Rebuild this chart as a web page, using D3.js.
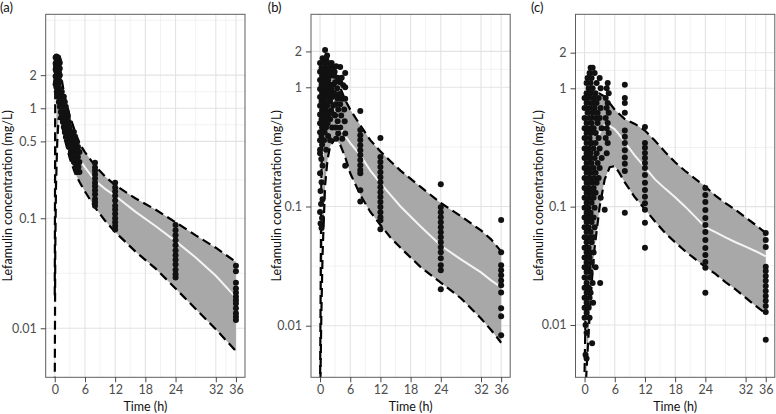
<!DOCTYPE html>
<html><head><meta charset="utf-8">
<script src="https://cdn.jsdelivr.net/npm/d3@7"></script>
<style>
body{margin:0;background:#fff}
svg{display:block}
text{font-family:Lato,"Open Sans",sans-serif}
</style>
</head><body>
<svg id="chart" width="776" height="414"></svg>
<script>
// ---------------- data ----------------
const xBreaks = [0, 6, 12, 18, 24, 32, 36];
const yBreaksA = [0.01, 0.1, 0.5, 1, 2];
const yBreaksB = [0.01, 0.1, 1, 2];
const yBreaksC = [0.01, 0.1, 1, 2];
const panelTitles = ["(a)", "(b)", "(c)"];
const xTitle = "Time (h)";
const yTitle = "Lefamulin concentration (mg/L)";

// prediction-interval band (5th / 50th / 95th percentiles)
const timesA  = [0, 0.1, 0.25, 0.5, 0.75, 1, 1.5, 2, 3, 4, 5, 6, 8, 10, 12, 16, 20, 24, 28, 32, 36];
const upperA  = [0.02, 1.6, 2.3, 2.6, 2.6, 2.4, 1.7, 1.25, 0.85, 0.62, 0.47, 0.4, 0.3, 0.24, 0.2, 0.152, 0.12, 0.092, 0.07, 0.054, 0.04];
const medianA = [0.006, 0.6, 1.4, 1.7, 1.7, 1.5, 1.1, 0.8, 0.55, 0.42, 0.34, 0.29, 0.22, 0.185, 0.16, 0.115, 0.085, 0.062, 0.044, 0.03, 0.019];
const lowerA  = [0.003, 0.05, 0.2, 0.5, 0.8, 0.85, 0.68, 0.52, 0.35, 0.26, 0.21, 0.175, 0.125, 0.095, 0.075, 0.05, 0.035, 0.023, 0.015, 0.0098, 0.0062];

const timesB  = [0, 0.25, 0.5, 1, 1.5, 2, 3, 4, 5, 6, 8, 10, 12, 14, 16, 20, 24, 28, 32, 34, 36];
const upperB  = [0.003, 0.15, 0.6, 1.5, 1.75, 1.7, 1.35, 1.0, 0.78, 0.65, 0.48, 0.36, 0.29, 0.24, 0.2, 0.146, 0.107, 0.083, 0.063, 0.053, 0.042];
const medianB = [0.002, 0.05, 0.25, 0.7, 0.9, 0.92, 0.65, 0.46, 0.39, 0.34, 0.27, 0.2, 0.157, 0.125, 0.1, 0.068, 0.047, 0.036, 0.028, 0.024, 0.021];
const lowerB  = [0.002, 0.012, 0.04, 0.15, 0.25, 0.32, 0.37, 0.33, 0.26, 0.19, 0.125, 0.09, 0.07, 0.055, 0.045, 0.031, 0.023, 0.017, 0.0115, 0.0092, 0.0072];

const timesC  = [0, 0.5, 1, 1.5, 2, 3, 4, 5, 6, 7, 8, 10, 12, 14, 16, 18, 20, 22, 24, 26, 28, 30, 32, 34, 36];
const upperC  = [0.004, 0.06, 0.3, 0.6, 0.8, 0.9, 0.85, 0.75, 0.66, 0.6, 0.55, 0.5, 0.44, 0.36, 0.29, 0.237, 0.2, 0.172, 0.148, 0.124, 0.107, 0.094, 0.081, 0.07, 0.06];
const medianC = [0.003, 0.02, 0.08, 0.18, 0.28, 0.42, 0.49, 0.48, 0.45, 0.4, 0.35, 0.27, 0.215, 0.17, 0.142, 0.12, 0.1, 0.082, 0.067, 0.061, 0.055, 0.05, 0.046, 0.042, 0.038];
const lowerC  = [0.002, 0.005, 0.012, 0.025, 0.045, 0.1, 0.17, 0.215, 0.22, 0.19, 0.16, 0.12, 0.095, 0.075, 0.06, 0.05, 0.042, 0.036, 0.031, 0.027, 0.023, 0.02, 0.017, 0.0145, 0.0125];

// observed concentrations [time (h), concentration (mg/L)]
const obsA = [
 [0.17,2.9],[0.33,2.95],[0.5,2.85],[0.67,2.9],[0.83,2.75],[1.0,2.6],
 [0.17,2.55],[0.33,2.65],[0.5,2.5],[0.75,2.45],[1.0,2.3],
 [0.17,2.25],[0.33,2.15],[0.5,2.25],[0.75,2.1],[1.0,2.0],
 [0.17,1.95],[0.33,1.85],[0.5,1.9],[0.75,1.8],[1.0,1.75],
 [0.17,1.65],[0.33,1.55],[0.5,1.7],[0.75,1.55],[1.0,1.5],
 [0.25,2.4],[0.67,2.3],[0.42,2.0],[0.83,1.95],[0.25,1.75],[0.67,1.65],
 [0.4,1.41],[1.0,1.41],[1.4,1.41],[0.6,1.27],[1.2,1.27],[1.8,1.27],
 [0.8,1.14],[1.4,1.14],[2.0,1.14],[1.0,1.03],[1.6,1.03],[2.2,1.03],
 [1.2,0.925],[1.8,0.925],[2.4,0.925],[1.4,0.834],[2.0,0.834],[2.6,0.834],
 [1.6,0.751],[2.2,0.751],[2.8,0.751],[1.8,0.676],[2.4,0.676],[3.0,0.676],
 [2.0,0.609],[2.6,0.609],[3.2,0.609],[3.8,0.609],[2.2,0.548],[2.8,0.548],[3.4,0.548],[4.0,0.548],
 [2.6,0.494],[3.2,0.494],[3.8,0.494],[4.4,0.494],[2.8,0.445],[3.4,0.445],[4.0,0.445],[4.6,0.445],
 [3.2,0.4],[3.8,0.4],[4.4,0.4],[4.9,0.4],[3.4,0.361],[4.0,0.361],[4.6,0.361],
 [3.8,0.325],[4.4,0.325],[4.9,0.325],[4.2,0.293],[4.7,0.293],[4.4,0.264],[4.9,0.264],
 [8,0.32],[8,0.29],[8,0.27],[8,0.25],[8,0.23],[8,0.21],[8,0.195],[8,0.18],[8,0.165],[8,0.15],[8,0.14],[8,0.13],
 [12,0.21],[12,0.19],[12,0.175],[12,0.16],[12,0.145],[12,0.13],[12,0.12],[12,0.11],[12,0.1],[12,0.092],[12,0.085],[12,0.079],
 [24,0.087],[24,0.078],[24,0.07],[24,0.063],[24,0.057],[24,0.051],[24,0.046],[24,0.042],[24,0.038],[24,0.034],[24,0.031],[24,0.029],
 [36,0.037],[36,0.033],[36,0.026],[36,0.023],[36,0.021],[36,0.0193],[36,0.018],[36,0.0168],[36,0.0152],[36,0.0137],[36,0.0127],[36,0.0119]
];

const obsB = [
 [0.5,1.75],[1.2,1.75],[0,1.6],[0.8,1.6],[1.6,1.6],[2.3,1.6],[0.3,1.45],[1.1,1.45],[1.9,1.45],
 [0,1.35],[0.7,1.35],[1.5,1.35],[2.4,1.35],[0.4,1.25],[1.2,1.25],[2.0,1.25],[2.8,1.25],
 [0,1.15],[0.8,1.15],[1.6,1.15],[0.3,1.05],[1.1,1.05],[2.0,1.05],[2.6,1.05],
 [0,0.97],[0.7,0.97],[1.4,0.97],[2.2,0.97],[0.4,0.9],[1.2,0.9],[1.8,0.9],[2.7,0.9],
 [0,0.83],[0.8,0.83],[1.6,0.83],[2.4,0.83],[0.3,0.76],[1.0,0.76],[2.0,0.76],
 [0,0.7],[0.7,0.7],[1.4,0.7],[2.6,0.7],[0.4,0.64],[1.2,0.64],[2.2,0.64],
 [0,0.59],[0.8,0.59],[1.7,0.59],[2.8,0.59],[0.3,0.54],[1.1,0.54],[2.0,0.54],
 [0,0.5],[0.7,0.5],[1.5,0.5],[0.4,0.46],[1.2,0.46],[2.4,0.46],[0,0.42],[0.9,0.42],
 [0.3,0.39],[1.6,0.39],[0,0.36],[0.8,0.36],[2.0,0.36],[0.4,0.33],[0,0.3],[1.2,0.3],
 [1.0,2.06],[1.4,1.85],[4.0,1.48],[5.0,1.32],[5.0,1.0],[4.6,1.04],
 [3.2,1.5],[2.9,1.35],[3.5,1.2],[4.3,1.2],[3.0,1.1],[4.0,1.1],[3.4,0.98],[3.0,0.88],[3.9,0.88],
 [3.5,0.8],[4.4,0.8],[5.0,0.8],[3.1,0.72],[4.0,0.72],[3.6,0.65],[4.8,0.65],[3.0,0.58],[4.2,0.58],
 [3.5,0.52],[4.9,0.52],[3.1,0.46],[4.0,0.46],[3.6,0.41],[5.0,0.41],[3.2,0.37],[4.4,0.37],[5.0,0.22],
 [0,0.28],[0.25,0.25],[0.5,0.22],[0,0.19],[0.3,0.16],[0.1,0.135],[0.5,0.115],[0.2,0.105],[0,0.09],[0.4,0.08],[0.1,0.072],[0.3,0.066],
 [8,0.632],[8,0.438],[8,0.397],[8,0.361],[8,0.327],[8,0.297],[8,0.27],[8,0.245],[8,0.222],[8,0.202],[8,0.19],[8,0.137],[8,0.11],
 [12,0.375],[12,0.26],[12,0.236],[12,0.214],[12,0.194],[12,0.176],[12,0.16],[12,0.145],[12,0.132],[12,0.12],[12,0.109],[12,0.099],[12,0.0896],[12,0.0813],[12,0.0767],[12,0.0645],
 [24,0.154],[24,0.0986],[24,0.0896],[24,0.0813],[24,0.0738],[24,0.067],[24,0.0608],[24,0.0552],[24,0.0501],[24,0.0455],[24,0.0413],[24,0.0368],[24,0.0322],[24,0.0292],[24,0.0202],
 [36,0.077],[36,0.0413],[36,0.0322],[36,0.0292],[36,0.0265],[36,0.024],[36,0.0218],[36,0.019],[36,0.014],[36,0.012],[36,0.0083]
];

const obsC = [
 [1.2,1.49],[1.6,1.49],[1.0,1.35],[2.0,1.35],[0.6,1.22],[1.4,1.22],[3.0,1.22],
 [0.4,1.11],[1.2,1.11],[2.4,1.11],[4.6,1.11],[0.8,1.0],[1.6,1.0],[3.2,1.0],[4.4,1.0],
 [0.4,0.91],[1.2,0.91],[2.2,0.91],[4.8,0.91],[0,0.83],[0.8,0.83],[1.8,0.83],[2.8,0.83],[4.2,0.83],
 [0.4,0.75],[1.4,0.75],[2.4,0.75],[4.6,0.75],[0,0.68],[1.0,0.68],[2.0,0.68],[3.2,0.68],[4.4,0.68],
 [0.6,0.62],[1.6,0.62],[2.6,0.62],[4.8,0.62],[0,0.56],[1.0,0.56],[2.2,0.56],[3.0,0.56],[4.2,0.56],
 [0.4,0.51],[1.4,0.51],[2.6,0.51],[4.6,0.51],[0,0.46],[0.8,0.46],[1.8,0.46],[3.4,0.46],[4.4,0.46],
 [0.4,0.42],[1.2,0.42],[2.2,0.42],[4.8,0.42],[0,0.38],[1.0,0.38],[2.8,0.38],[4.2,0.38],
 [0.4,0.345],[1.4,0.345],[2.2,0.345],[4.6,0.345],[0,0.31],[0.8,0.31],[1.8,0.31],[3.0,0.31],
 [0.4,0.283],[1.2,0.283],[2.4,0.283],[4.4,0.283],[0,0.258],[1.0,0.258],[2.0,0.258],[3.4,0.258],
 [0.4,0.234],[1.4,0.234],[2.6,0.234],[0,0.212],[0.8,0.212],[1.8,0.212],[3.0,0.212],
 [0.4,0.193],[1.2,0.193],[2.2,0.193],[0,0.175],[1.0,0.175],[1.8,0.175],[2.8,0.175],
 [0.4,0.159],[1.4,0.159],[2.4,0.159],[0,0.144],[0.8,0.144],[1.8,0.144],
 [0.4,0.131],[1.2,0.131],[2.2,0.131],[0,0.119],[1.0,0.119],[1.8,0.119],[3.2,0.119],
 [0.4,0.108],[1.4,0.108],[0,0.098],[0.8,0.098],[2.0,0.098],[0.4,0.089],[1.2,0.089],[4.0,0.094],
 [0,0.081],[1.0,0.081],[1.8,0.081],[0.4,0.074],[1.4,0.074],[0,0.067],[0.8,0.067],[2.0,0.067],
 [0.4,0.061],[1.2,0.061],[0,0.055],[1.0,0.055],[1.8,0.055],[0.4,0.05],[1.4,0.05],[0,0.045],[0.8,0.045],
 [0.4,0.041],[1.2,0.041],[1.8,0.041],[0,0.0372],[1.0,0.0372],[0.4,0.0338],[1.4,0.0338],
 [0,0.0307],[0.8,0.0307],[2.2,0.0307],[0.4,0.028],[1.2,0.028],[0,0.0252],[1.0,0.0252],
 [0.4,0.0226],[1.6,0.0226],[3.1,0.0226],[0,0.0206],[0.8,0.0206],[0.4,0.0187],[1.2,0.0187],
 [0,0.017],[1.0,0.017],[0.4,0.0154],[1.7,0.0154],[0,0.014],[0.8,0.014],[0.4,0.0127],[0,0.0115],[1.0,0.0115],
 [0.2,0.01],[0.4,0.0086],[1.5,0.007],[0.2,0.0056],[0.4,0.0052],
 [8,1.07],[8,0.83],[8,0.75],[8,0.62],[8,0.44],[8,0.39],[8,0.345],[8,0.3],[8,0.26],[8,0.23],[8,0.2],[8,0.089],
 [12,0.47],[12,0.345],[12,0.314],[12,0.284],[12,0.258],[12,0.234],[12,0.212],[12,0.185],[12,0.159],[12,0.138],[12,0.121],[12,0.107],[12,0.094],[12,0.073],[12,0.045],
 [24,0.144],[24,0.1255],[24,0.1096],[24,0.0938],[24,0.0803],[24,0.07],[24,0.0611],[24,0.0523],[24,0.0448],[24,0.0391],[24,0.0341],[24,0.0304],[24,0.0187],
 [36,0.06],[36,0.0523],[36,0.0457],[36,0.031],[36,0.0286],[36,0.026],[36,0.0236],[36,0.0214],[36,0.0194],[36,0.0176],[36,0.016],[36,0.0145],[36,0.0129],[36,0.0075]
];

// ---------------- layout ----------------
const panels = [
  {title: panelTitles[0], titleX: 0, left: 45.7, right: 245, yDomain: [0.003584, 7.15], yBreaks: yBreaksA, yLabX: 7.5,
   times: timesA, upper: upperA, median: medianA, lower: lowerA, obs: obsA},
  {title: panelTitles[1], titleX: 267.7, left: 311, right: 510.2, yDomain: [0.003691, 4.097], yBreaks: yBreaksB, yLabX: 276.5,
   times: timesB, upper: upperB, median: medianB, lower: lowerB, obs: obsB},
  {title: panelTitles[2], titleX: 531, left: 575.5, right: 774.8, yDomain: [0.003614, 4.22], yBreaks: yBreaksC, yLabX: 538.3,
   times: timesC, upper: upperC, median: medianC, lower: lowerC, obs: obsC}
];
const panelTop = 14.3, panelBottom = 377.3;
const xDomain = [-1.8, 37.8];

function minorBreaks(b, lim) {
  const bb = b.slice();
  const bd = bb[1] - bb[0];
  if (lim[0] < bb[0]) bb.unshift(bb[0] - bd);
  if (lim[1] > bb[bb.length - 1]) bb.push(bb[bb.length - 1] + bd);
  const m = [];
  for (let i = 0; i < bb.length - 1; i++) m.push((bb[i] + bb[i + 1]) / 2);
  return m.filter(v => v > lim[0] && v < lim[1] && !b.some(q => Math.abs(q - v) < 1e-9));
}

const svg = d3.select("#chart");
svg.append("rect").attr("width", 776).attr("height", 414).attr("fill", "#fff");

panels.forEach((p, i) => {
  const x = d3.scaleLinear().domain(xDomain).range([p.left, p.right]);
  const y = d3.scaleLog().domain(p.yDomain).range([panelBottom, panelTop]);
  const g = svg.append("g");
  const clipId = "clip" + i;
  svg.append("defs").append("clipPath").attr("id", clipId)
    .append("rect").attr("x", p.left).attr("y", panelTop).attr("width", p.right - p.left).attr("height", panelBottom - panelTop);

  // grid
  const xMinor = minorBreaks(xBreaks, xDomain);
  const yLogB = p.yBreaks.map(v => Math.log10(v));
  const yLogLim = p.yDomain.map(v => Math.log10(v));
  const yMinor = minorBreaks(yLogB, yLogLim).map(v => Math.pow(10, v));
  const grid = g.append("g");
  grid.selectAll(".xmin").data(xMinor).join("line")
    .attr("x1", d => x(d)).attr("x2", d => x(d)).attr("y1", panelTop).attr("y2", panelBottom)
    .attr("stroke", "#efefef").attr("stroke-width", 0.8);
  grid.selectAll(".ymin").data(yMinor).join("line")
    .attr("x1", p.left).attr("x2", p.right).attr("y1", d => y(d)).attr("y2", d => y(d))
    .attr("stroke", "#efefef").attr("stroke-width", 0.8);
  grid.selectAll(".xmaj").data(xBreaks).join("line")
    .attr("x1", d => x(d)).attr("x2", d => x(d)).attr("y1", panelTop).attr("y2", panelBottom)
    .attr("stroke", "#e3e3e3").attr("stroke-width", 1.1);
  grid.selectAll(".ymaj").data(p.yBreaks).join("line")
    .attr("x1", p.left).attr("x2", p.right).attr("y1", d => y(d)).attr("y2", d => y(d))
    .attr("stroke", "#e3e3e3").attr("stroke-width", 1.1);

  // band
  const band = p.times.map((t, k) => ({t, up: p.upper[k], md: p.median[k], lo: p.lower[k]}));
  const plot = g.append("g").attr("clip-path", `url(#${clipId})`);
  plot.append("path").datum(band)
    .attr("d", d3.area().x(d => x(d.t)).y0(d => y(d.lo)).y1(d => y(d.up)))
    .attr("fill", "#a8a8a8");
  plot.append("path").datum(band)
    .attr("d", d3.line().x(d => x(d.t)).y(d => y(d.md)))
    .attr("fill", "none").attr("stroke", "#f4f4f4").attr("stroke-width", 2);
  ["up", "lo"].forEach(key => {
    plot.append("path").datum(band)
      .attr("d", d3.line().x(d => x(d.t)).y(d => y(d[key])))
      .attr("fill", "none").attr("stroke", "#000").attr("stroke-width", 2.2)
      .attr("stroke-dasharray", "9,5");
  });
  // observations
  plot.append("g").selectAll("circle").data(p.obs).join("circle")
    .attr("cx", d => x(d[0])).attr("cy", d => y(d[1])).attr("r", 3)
    .attr("fill", "#111");

  // border
  g.append("rect").attr("x", p.left).attr("y", panelTop).attr("width", p.right - p.left).attr("height", panelBottom - panelTop)
    .attr("fill", "none").attr("stroke", "#5e5e5e").attr("stroke-width", 1);

  // axes
  const yAxis = d3.axisLeft(y).tickValues(p.yBreaks).tickFormat(d => String(d)).tickSize(5).tickPadding(4);
  const ya = g.append("g").attr("transform", `translate(${p.left},0)`).call(yAxis);
  const xAxis = d3.axisBottom(x).tickValues(xBreaks).tickFormat(d => String(d)).tickSize(5).tickPadding(3);
  const xa = g.append("g").attr("transform", `translate(0,${panelBottom})`).call(xAxis);
  [ya, xa].forEach(a => {
    a.select(".domain").remove();
    a.selectAll(".tick line").attr("stroke", "#333").attr("stroke-width", 0.9);
    a.selectAll(".tick text").attr("fill", "#4d4d4d").style("font-size", "12.5px").style("font-family", "Lato");
  });

  // titles
  svg.append("text").attr("x", p.titleX).attr("y", 12).text(p.title)
    .style("font-size", "13px").attr("fill", "#111");
  svg.append("text").attr("x", (p.left + p.right) / 2).attr("y", 410.5).attr("text-anchor", "middle")
    .text(xTitle).style("font-size", "12.5px").attr("fill", "#111");
  svg.append("text").attr("transform", `translate(${p.yLabX},${(panelTop + panelBottom) / 2}) rotate(-90)`)
    .attr("text-anchor", "middle").attr("dy", "0.35em")
    .text(yTitle).style("font-size", "12.5px").attr("fill", "#111");
});
</script>
</body></html>
